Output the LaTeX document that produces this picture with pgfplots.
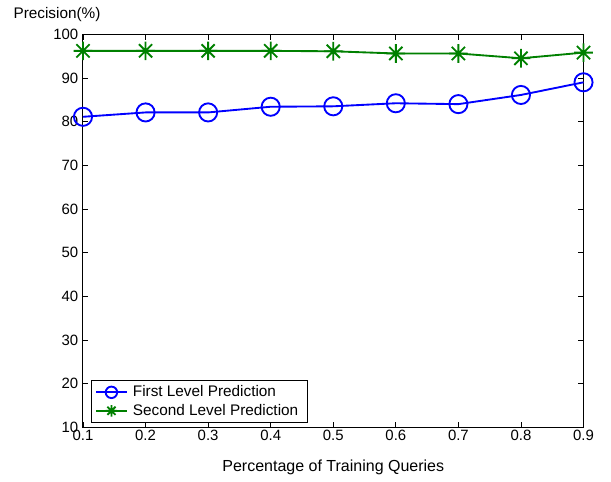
\documentclass[border=0pt]{standalone}
\usepackage{fontspec}
\setmainfont{Liberation Sans}
\usepackage{pgfplots}
\pgfplotsset{compat=1.18}
\definecolor{mblue}{RGB}{0,0,255}
\definecolor{mgreen}{RGB}{0,128,0}
\pgfdeclareplotmark{matstar}{%
  \pgfpathmoveto{\pgfqpoint{-\pgfplotmarksize}{0pt}}\pgfpathlineto{\pgfqpoint{\pgfplotmarksize}{0pt}}%
  \pgfpathmoveto{\pgfqpoint{0pt}{-\pgfplotmarksize}}\pgfpathlineto{\pgfqpoint{0pt}{\pgfplotmarksize}}%
  \pgfpathmoveto{\pgfqpoint{-0.707\pgfplotmarksize}{-0.707\pgfplotmarksize}}\pgfpathlineto{\pgfqpoint{0.707\pgfplotmarksize}{0.707\pgfplotmarksize}}%
  \pgfpathmoveto{\pgfqpoint{-0.707\pgfplotmarksize}{0.707\pgfplotmarksize}}\pgfpathlineto{\pgfqpoint{0.707\pgfplotmarksize}{-0.707\pgfplotmarksize}}%
  \pgfusepathqstroke}
\begin{document}
\begin{tikzpicture}
\path[use as bounding box] (-62.25pt,-41pt) rectangle (396pt,320.45pt);
\begin{axis}[
  at={(0,0)}, anchor=south west,
  scale only axis, width=375.4pt, height=294.75pt,
  xmin=0.1, xmax=0.9, ymin=10, ymax=100,
  xtick={0.1,0.2,...,0.9}, ytick={10,20,...,100},
  tick align=inside, major tick length=4pt,
  tick style={black, line width=0.5pt},
  axis line style={line width=0.75pt},
  /pgf/number format/assume math mode=true,
  xticklabel style={/pgf/number format/fixed, /pgf/number format/precision=1, /pgf/number format/fixed zerofill, font=\fontsize{11.2}{12}\selectfont, yshift=1.5pt},
  yticklabel style={font=\fontsize{11.2}{12}\selectfont},
  every axis x label/.style={at={(axis description cs:0.5,0)}, anchor=center, yshift=-30pt, font=\fontsize{12}{14}\selectfont},
  every axis y label/.style={at={(axis description cs:0,1)}, anchor=base, xshift=-19.5pt, yshift=12pt, font=\fontsize{11.5}{14}\selectfont},
  xlabel={Percentage of Training Queries},
  ylabel={Precision(\%)},
  legend cell align=left,
  legend style={at={(rel axis cs:0,0)}, anchor=south west, xshift=6pt, yshift=3.2pt, draw=black, line width=0.5pt, font=\fontsize{11.5}{13}\selectfont, inner xsep=3pt, inner ysep=2pt, row sep=0pt, nodes={inner xsep=4pt}},
  legend image code/.code={\draw[#1, mark size=4.3pt, mark repeat=2, mark phase=2] plot coordinates {(0cm,0cm) (0.4cm,0cm) (0.8cm,0cm)};},
]
\addplot[color=mblue, line width=1.4pt, mark=o, mark size=6.8pt, mark options={line width=1.4pt}] coordinates {
(0.1,81.1) (0.2,82.1) (0.3,82.1) (0.4,83.4) (0.5,83.5) (0.6,84.2) (0.7,84.0) (0.8,86.1) (0.9,89.0)};
\addlegendentry{First Level Prediction}
\addplot[color=mgreen, line width=1.4pt, mark=matstar, mark size=7pt, mark options={line width=1.4pt}] coordinates {
(0.1,96.2) (0.2,96.2) (0.3,96.2) (0.4,96.2) (0.5,96.1) (0.6,95.6) (0.7,95.6) (0.8,94.5) (0.9,95.8)};
\addlegendentry{Second Level Prediction}
\end{axis}
\end{tikzpicture}
\end{document}
